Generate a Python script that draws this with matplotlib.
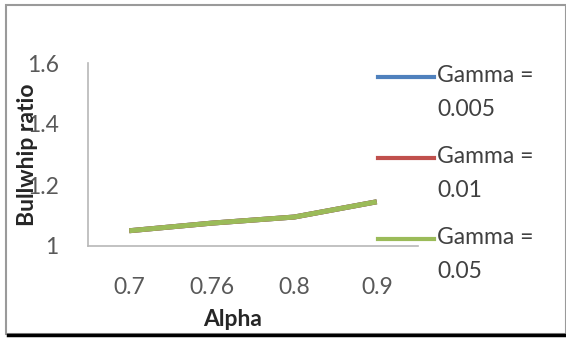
import matplotlib
matplotlib.use("Agg")
import matplotlib.pyplot as plt
from matplotlib.lines import Line2D
from matplotlib.patches import Rectangle

plt.rcParams['font.family'] = ['Lato', 'DejaVu Sans']

# bullwhip ratio vs alpha, one line per gamma
alpha = ["0.7", "0.76", "0.8", "0.9"]
gamma_labels = ["Gamma =\n0.005", "Gamma =\n0.01", "Gamma =\n0.05"]
ratio_g0005 = [1.05, 1.075, 1.095, 1.145]
ratio_g001 = [1.05, 1.075, 1.095, 1.145]
ratio_g005 = [1.05, 1.075, 1.095, 1.145]
colors = ["#4f81bd", "#c0504d", "#9bbb59"]

W, H = 566, 338
fig = plt.figure(figsize=(W / 100, H / 100), dpi=100)
ax = fig.add_axes([88 / W, 1 - 246 / H, 330 / W, 183 / H])

xs = range(len(alpha))
for vals, c in zip([ratio_g0005, ratio_g001, ratio_g005], colors):
    ax.plot(xs, vals, color=c, lw=3.6, solid_capstyle='butt')

ax.set_xlim(-0.5, len(alpha) - 0.5)
ax.set_ylim(1, 1.6)
ax.set_yticks([1, 1.2, 1.4, 1.6])
ax.set_yticklabels(["1", "1.2", "1.4", "1.6"])
ax.set_xticks(list(xs))
ax.set_xticklabels(alpha)
ax.tick_params(length=0, labelsize=16.5, labelcolor='#595959')
ax.tick_params(axis='y', pad=21)
ax.tick_params(axis='x', pad=22)
for s in ['top', 'right']:
    ax.spines[s].set_visible(False)
for s in ['left', 'bottom']:
    ax.spines[s].set_color('#b8b8b8')
    ax.spines[s].set_linewidth(1.2)

fig.text(233 / W, 1 - 320 / H, "Alpha", ha='center', va='center',
         fontsize=16.5, fontweight='bold', color='#262626')
fig.text(28 / W, 1 - 155 / H, "Bullwhip ratio", ha='center', va='center',
         rotation=90, fontsize=16.5, fontweight='bold', color='#262626')

# legend on the right, handle next to first text line
for i, (lab, c) in enumerate(zip(gamma_labels, colors)):
    y = 77 + i * 81
    fig.add_artist(Line2D([378 / W, 434 / W], [1 - y / H, 1 - y / H],
                          transform=fig.transFigure, color=c, lw=3))
    fig.text(437 / W, 1 - (y - 12) / H, lab, ha='left', va='top',
             fontsize=16.5, color='#404040', linespacing=1.75)

# outer frame
fig.add_artist(Rectangle((5.5 / W, 1 - 334 / H), 560 / W, 329.5 / H,
                         transform=fig.transFigure, fill=False,
                         edgecolor='#9a9a9a', lw=1.5))
fig.add_artist(Line2D([8 / W, 1], [1 - 335 / H, 1 - 335 / H],
                      transform=fig.transFigure, color='black', lw=2.5))

fig.savefig("out.png", dpi=100)
